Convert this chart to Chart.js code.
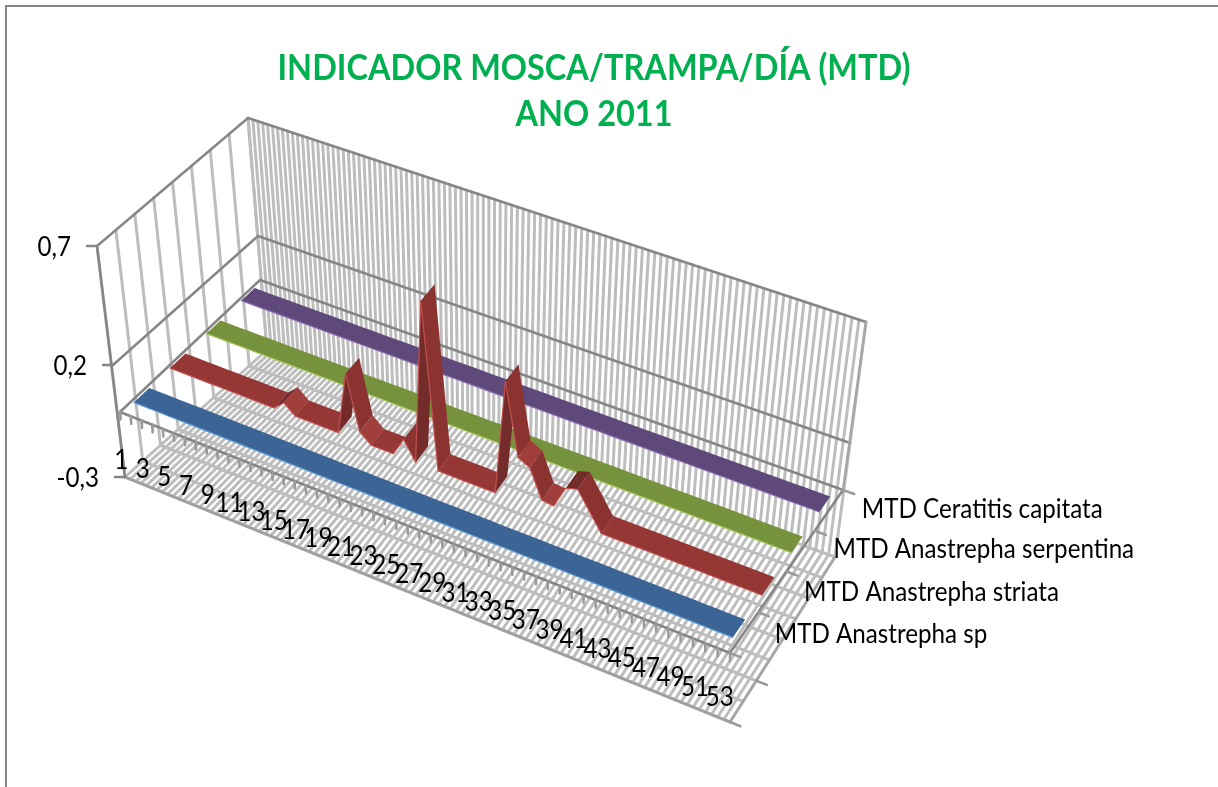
<!DOCTYPE html>
<html><head><meta charset="utf-8">
<script src="https://cdn.jsdelivr.net/npm/chart.js@4/dist/chart.umd.min.js"></script>
<style>html,body{margin:0;padding:0;background:#fff}#w{position:absolute;left:0;top:0;width:1218px;height:787px}</style>
</head><body><div id="w"><canvas id="c" width="1218" height="787"></canvas></div>
<script>
const titleLines = ["INDICADOR MOSCA/TRAMPA/DÍA (MTD)", "ANO 2011"];
const weeks = [1,2,3,4,5,6,7,8,9,10,11,12,13,14,15,16,17,18,19,20,21,22,23,24,25,26,27,28,29,30,31,32,33,34,35,36,37,38,39,40,41,42,43,44,45,46,47,48,49,50,51,52,53];
const weekTickLabels = [1,3,5,7,9,11,13,15,17,19,21,23,25,27,29,31,33,35,37,39,41,43,45,47,49,51,53];
const valueTicks = [-0.3, 0.2, 0.7];
const valueTickLabels = ["-0,3", "0,2", "0,7"];
const seriesNames = ["MTD Anastrepha sp", "MTD Anastrepha striata", "MTD Anastrepha serpentina", "MTD Ceratitis capitata"];
const anastrephaSp =         [0,0,0,0,0,0,0,0,0,0,0,0,0,0,0,0,0,0,0,0,0,0,0,0,0,0,0,0,0,0,0,0,0,0,0,0,0,0,0,0,0,0,0,0,0,0,0,0,0,0,0,0,0];
const anastrephaStriata =    [0,0,0,0,0,0,0,0,0,0,0,0.04,0,0,0,0,0,0.27,0.04,0,0,0,0.08,0,0.7,0,0,0,0,0,0,0.49,0.19,0.165,0.045,0.04,0.135,0.15,0.075,0,0,0,0,0,0,0,0,0,0,0,0,0,0];
const anastrephaSerpentina = [0,0,0,0,0,0,0,0,0,0,0,0,0,0,0,0,0,0,0,0,0,0,0,0,0,0,0,0,0,0,0,0,0,0,0,0,0,0,0,0,0,0,0,0,0,0,0,0,0,0,0,0,0];
const ceratitisCapitata =    [0,0,0,0,0,0,0,0,0,0,0,0,0,0,0,0,0,0,0,0,0,0,0,0,0,0,0,0,0,0,0,0,0,0,0,0,0,0,0,0,0,0,0,0,0,0,0,0,0,0,0,0,0];
const seriesValues = [anastrephaSp, anastrephaStriata, anastrephaSerpentina, ceratitisCapitata];

/* 3-D view: screen position of the box columns at each reference level */
const LEVELS = [-0.3, 0, 0.2, 0.7];
const FL = [[125,477],[120,412],[113,365],[97,246]];
const BL = [[267,350],[260,280],[258,236],[248,118]];
const FR = [[730,722],[730,653],[731,606],[735,487]];
const BR = [[835,557],[843,490],[850,443],[866,322]];
function col(c, v){
  let i = 0; while (i < LEVELS.length-2 && v > LEVELS[i+1]) i++;
  const t = (v-LEVELS[i])/(LEVELS[i+1]-LEVELS[i]);
  return [c[i][0]+(c[i+1][0]-c[i][0])*t, c[i][1]+(c[i+1][1]-c[i][1])*t];
}
function P(u, w, v){
  const r = 1.08 + 0.12*w;
  const a = u/(r-(r-1)*u);
  const f0 = col(FL,v), f1 = col(FR,v), b0 = col(BL,v), b1 = col(BR,v);
  const fx = f0[0]+(f1[0]-f0[0])*a, fy = f0[1]+(f1[1]-f0[1])*a;
  const bx = b0[0]+(b1[0]-b0[0])*a, by = b0[1]+(b1[1]-b0[1])*a;
  return {x: fx+(bx-fx)*w, y: fy+(by-fy)*w};
}
const N = weeks.length;
const uOf = wk => (wk-0.75)/(N-0.25);
const GAP = {x:null, y:null};

const LIGHT = '#BDBDBD', DARK = '#868686';
const datasets = [];
function add(points, color, width, fill){
  datasets.push({data: points, showLine:true, borderColor: color, backgroundColor: fill||color,
    borderWidth: width, fill: fill ? 'shape' : false, pointRadius:0, pointHoverRadius:0, tension:0,
    spanGaps:false, clip:false, borderCapStyle:'round', borderJoinStyle:'round', order:-datasets.length});
}
function polyline(list, color, width){
  const pts = [];
  list.forEach(l => { pts.push(...l, GAP); });
  add(pts, color, width);
}
/* walls and floor */
const back=[], floor=[], side=[], floorW=[];
for (let k=0;k<=2*N;k++){
  const u=k/(2*N);
  back.push([P(u,1,-0.3),P(u,1,0.7)]);
  floor.push([P(u,0,-0.3),P(u,1,-0.3)]);
}
for (let k=0;k<=8;k++){
  const w=k/8;
  side.push([P(0,w,-0.3),P(0,w,0.7)]);
  floorW.push([P(0,w,-0.3),P(1,w,-0.3)]);
}
polyline(back, LIGHT, 3);
polyline(side, LIGHT, 3);
polyline(floor, LIGHT, 3);
polyline(floorW, LIGHT, 3);
polyline([[P(1,0,-0.3),P(1,1,-0.3)]], '#A6A6A6', 2.5);
polyline([[P(0,0,-0.3),P(1,0,-0.3)]], '#A0A0A0', 2.5);
/* level lines on the walls */
[0.7,0.2,0].forEach(v => polyline([[P(0,0,v),P(0,1,v),P(1,1,v)]], DARK, 2.5));
/* axes with tick marks */
polyline([[P(0,0,0.7),P(0,0,-0.3)]], DARK, 2.5);
polyline([[P(0,0,0),P(1,0,0)],[P(1,0,0),P(1,1,0)]], DARK, 2.5);
polyline([[P(1,1,0.7),P(1,1,0)]], '#A6A6A6', 2.5);
const wt=[];
for (let k=0;k<=N;k++){ const u=k/N; wt.push([P(u,0,0),P(u,0,-0.035)]); }
polyline(wt, '#9A9A9A', 2.5);
const dt=[];
for (let k=0;k<=4;k++){ const w=k/4; dt.push([P(1,w,0),P(1.016,w,0)]); }
[0,0.25].forEach(w => dt.push([P(1,w,-0.3),P(1.016,w,-0.3)]));
polyline(dt, '#9A9A9A', 2.5);
valueTicks.forEach(v => { const p=P(0,0,v); polyline([[p,{x:p.x-10,y:p.y}]], DARK, 2.5); });

/* ribbons, back to front */
const depthFront = [0.08,0.34,0.60,0.85], depthBack = [0.19,0.45,0.70,0.945];
const flatCol = ['#3C6494','#953735','#76923C','#5F497A'];
const riseCol = ['#2F4F75','#742C2B','#5E7530','#4B3A61'];
const fallCol = ['#365A85','#8B3331','#6C8637','#574371'];
const softCol = ['#4271A6','#A03E3C','#82A042','#6A5288'];
const edgeCol = ['#5B9BD5','#C0504D','#A5C75C','#8A6DB0'];
function shade(s,d){
  if (d>0.001) return riseCol[s];
  if (d<-0.06) return fallCol[s];
  if (d<-0.001) return softCol[s];
  return flatCol[s];
}
[3,2,1,0].forEach(s => {
  const vals = seriesValues[s];
  let i = 0;
  while (i < N-1){
    const c = shade(s, vals[i+1]-vals[i]);
    let j = i+1;
    while (j < N-1 && shade(s, vals[j+1]-vals[j]) === c) j++;
    const front=[], backEdge=[];
    for (let k=i;k<=j;k++){
      const u=uOf(weeks[k]);
      front.push(P(u,depthFront[s],vals[k]));
      backEdge.unshift(P(u,depthBack[s],vals[k]));
    }
    add(front.concat(backEdge), c, 0, c);
    add(front, edgeCol[s], 1.2);
    i = j;
  }
});

const textPlugin = {
  id:'boxText',
  beforeDatasetsDraw(chart){
    const {ctx}=chart;
    ctx.save(); ctx.strokeStyle='#868686'; ctx.lineWidth=2;
    ctx.beginPath(); ctx.moveTo(1218,6); ctx.lineTo(6,6); ctx.lineTo(6,787); ctx.stroke(); ctx.restore();
  },
  afterDraw(chart){
    const {ctx,scales:{x,y}}=chart;
    const put=(t,px,py,align,sx,font,color)=>{
      ctx.save(); ctx.translate(px,py); ctx.scale(sx,1);
      ctx.font=font; ctx.fillStyle=color||'#000'; ctx.textAlign=align; ctx.textBaseline='middle';
      ctx.fillText(t,0,0); ctx.restore();
    };
    const TF='bold 37px Lato';
    ctx.save(); ctx.font=TF; const tsx=633/ctx.measureText(titleLines[0]).width; ctx.restore();
    put(titleLines[0],594,68,'center',tsx,TF,'#00B050');
    put(titleLines[1],594,114,'center',tsx,TF,'#00B050');
    const F='26px Lato', SX=0.93;
    weekTickLabels.forEach(w=>{
      const p=P((w-0.5)/N,0,0);
      put(String(w),x.getPixelForValue(p.x)-4,y.getPixelForValue(p.y)+47,'center',SX,F);
    });
    valueTicks.forEach((v,i)=>{
      const p=P(0,0,v);
      put(valueTickLabels[i],x.getPixelForValue(p.x)-26,y.getPixelForValue(p.y)+2,'right',SX,F);
    });
    seriesNames.forEach((n,s)=>{
      const p=P(1,depthFront[s]+0.05,0);
      put(n,x.getPixelForValue(p.x)+30,y.getPixelForValue(p.y)+3,'left',SX,F);
    });
  }
};
new Chart(document.getElementById('c'),{
  type:'scatter',
  data:{datasets},
  plugins:[textPlugin],
  options:{
    responsive:false, animation:false, events:[],
    layout:{padding:0},
    scales:{
      x:{type:'linear',display:false,min:0,max:1218},
      y:{type:'linear',display:false,reverse:true,min:0,max:787}
    },
    plugins:{legend:{display:false},tooltip:{enabled:false},title:{display:false}}
  }
});
</script></body></html>
